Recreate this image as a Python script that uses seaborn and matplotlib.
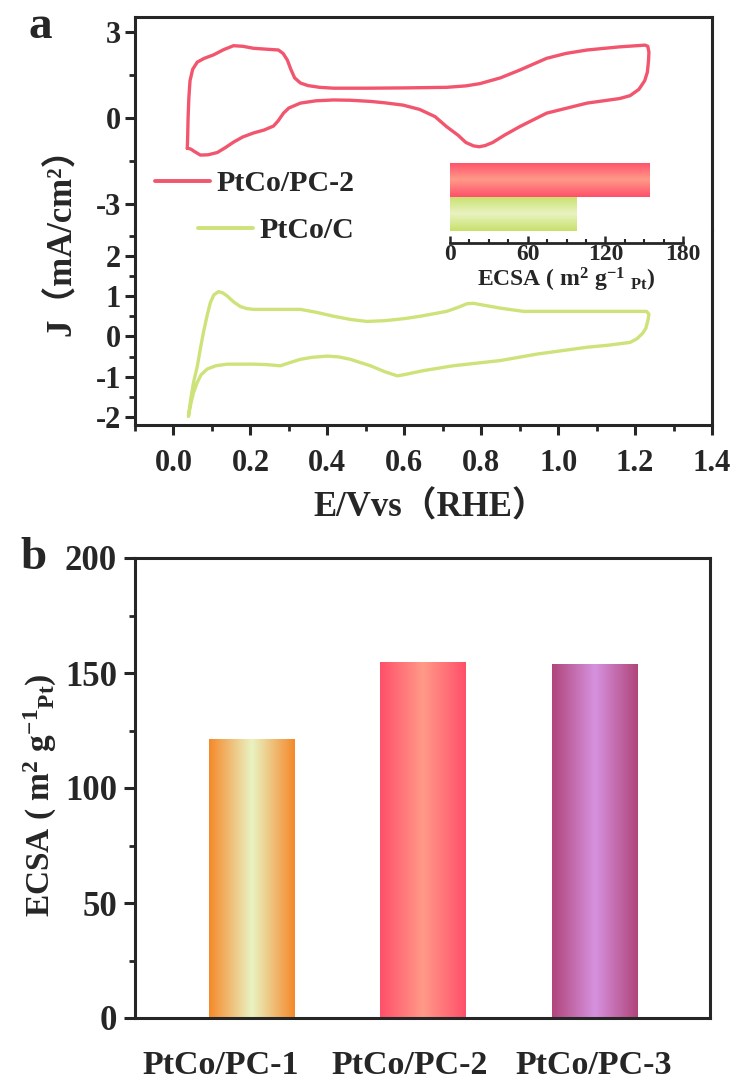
import numpy as np
import pandas as pd
import matplotlib
matplotlib.use("Agg")
import matplotlib.pyplot as plt
import seaborn as sns
from matplotlib.colors import LinearSegmentedColormap
from matplotlib.lines import Line2D
from matplotlib.ticker import MultipleLocator

# CV curve of PtCo/PC-2 (E vs RHE, J in mA/cm2)
E_pc2 = [0.036, 0.037, 0.038, 0.040, 0.043, 0.050, 0.062, 0.080, 0.104, 0.130, 0.156, 0.180, 0.208,
         0.240, 0.273, 0.285, 0.296, 0.305, 0.315, 0.330, 0.350, 0.380, 0.416, 0.503, 0.600, 0.710,
         0.760, 0.797, 0.850, 0.900, 0.970, 1.020, 1.075, 1.160, 1.226, 1.233, 1.236, 1.235, 1.232,
         1.225, 1.210, 1.187, 1.160, 1.075, 0.970, 0.900, 0.860, 0.830, 0.810, 0.795, 0.780, 0.760,
         0.740, 0.710, 0.680, 0.640, 0.597, 0.550, 0.512, 0.460, 0.416, 0.370, 0.330, 0.300, 0.286,
         0.272, 0.260, 0.235, 0.208, 0.180, 0.156, 0.135, 0.114, 0.090, 0.070, 0.055, 0.045, 0.036]
J_pc2 = [-1.05, -0.60, 0.00, 0.70, 1.30, 1.70, 1.95, 2.08, 2.20, 2.38, 2.52, 2.50, 2.43,
         2.40, 2.37, 2.25, 2.02, 1.70, 1.40, 1.22, 1.13, 1.07, 1.04, 1.04, 1.05, 1.07,
         1.12, 1.20, 1.40, 1.67, 2.08, 2.25, 2.37, 2.48, 2.54, 2.50, 2.30, 2.00, 1.60,
         1.30, 1.00, 0.78, 0.68, 0.52, 0.17, -0.30, -0.60, -0.85, -0.96, -1.00, -0.97, -0.85,
         -0.60, -0.30, 0.05, 0.30, 0.45, 0.53, 0.58, 0.62, 0.63, 0.60, 0.52, 0.35, 0.17,
         -0.10, -0.28, -0.42, -0.52, -0.66, -0.84, -1.03, -1.20, -1.28, -1.29, -1.17, -1.08, -1.05]

# CV curve of PtCo/C
E_c = [0.039, 0.045, 0.052, 0.062, 0.070, 0.078, 0.087, 0.096, 0.105, 0.117, 0.128, 0.140, 0.157,
       0.174, 0.190, 0.208, 0.330, 0.370, 0.416, 0.460, 0.503, 0.550, 0.600, 0.642, 0.710, 0.740,
       0.763, 0.780, 0.797, 0.850, 0.910, 1.230, 1.236, 1.234, 1.228, 1.220, 1.205, 1.187, 1.130,
       1.075, 0.945, 0.850, 0.727, 0.650, 0.600, 0.582, 0.550, 0.512, 0.460, 0.430, 0.400, 0.360,
       0.330, 0.300, 0.278, 0.240, 0.208, 0.140, 0.110, 0.088, 0.072, 0.062, 0.052, 0.044, 0.039]
J_c = [-1.98, -1.55, -1.15, -0.74, -0.30, 0.10, 0.50, 0.84, 1.03, 1.11, 1.08, 1.00, 0.85,
       0.74, 0.69, 0.67, 0.67, 0.60, 0.50, 0.42, 0.37, 0.39, 0.44, 0.50, 0.62, 0.72,
       0.81, 0.82, 0.79, 0.70, 0.62, 0.62, 0.55, 0.42, 0.20, 0.08, -0.06, -0.15, -0.22,
       -0.27, -0.44, -0.60, -0.73, -0.85, -0.95, -0.98, -0.88, -0.73, -0.57, -0.51, -0.49, -0.52,
       -0.57, -0.66, -0.73, -0.70, -0.69, -0.69, -0.73, -0.81, -0.95, -1.14, -1.40, -1.72, -1.98]

# inset ECSA bars
inset_names = ["PtCo/PC-2", "PtCo/C"]
inset_ecsa = [154, 98]

# panel b ECSA bars
samples = ["PtCo/PC-1", "PtCo/PC-2", "PtCo/PC-3"]
ecsa = [121.5, 155, 154]

red = "#F2566E"
green = "#CDE37A"
bar_grads = [["#F5892A", "#E9F3C2", "#F5892A"],
             ["#FF4F6A", "#FF9A88", "#FF4F6A"],
             ["#B0457A", "#D692DF", "#B0457A"]]
inset_grads = [["#FF4F6A", "#FF9A88", "#FF4F6A"],
               ["#C8E06A", "#E9F3C2", "#C8E06A"]]

sns.set_theme(style="ticks")
plt.rcParams['font.family'] = ['Liberation Serif', 'Noto Sans CJK SC']
plt.rcParams['font.weight'] = 'bold'
plt.rcParams['mathtext.default'] = 'regular'
plt.rcParams['axes.linewidth'] = 2.2
plt.rcParams['axes.unicode_minus'] = False


def gradient_fill(ax, patch, colors, vertical_bands=True):
    # paint a bar with a mirrored gradient, clipped to the bar shape
    x0, y0 = patch.get_x(), patch.get_y()
    w, h = patch.get_width(), patch.get_height()
    cmap = LinearSegmentedColormap.from_list("g", colors)
    grad = np.linspace(0, 1, 256)
    img = grad[None, :] if vertical_bands else grad[:, None]
    im = ax.imshow(img, cmap=cmap, aspect="auto", extent=(x0, x0 + w, y0, y0 + h),
                   origin="lower", zorder=2, interpolation="bicubic")
    im.set_clip_path(patch)
    patch.set_facecolor("none")
    patch.set_edgecolor("none")


W, H = 737, 1083
fig = plt.figure(figsize=(W / 100, H / 100), dpi=100)


def box(l, t, r, b):
    return [l / W, 1 - b / H, (r - l) / W, (b - t) / H]


# ---- panel a: split y axis ----
ax_top = fig.add_axes(box(135, 17, 712, 230))
ax_bot = fig.add_axes(box(135, 230, 712, 425), sharex=ax_top)

sns.lineplot(x=E_pc2, y=J_pc2, sort=False, estimator=None, color=red, lw=2.4, ax=ax_top,
             solid_joinstyle='round')
sns.lineplot(x=E_c, y=J_c, sort=False, estimator=None, color=green, lw=2.4, ax=ax_bot,
             solid_joinstyle='round')

ax_top.set_xlim(-0.1, 1.4)
ax_top.set_ylim(-3.9, 3.52)
ax_bot.set_ylim(-2.2, 2.64)
ax_top.set_yticks([-3, 0, 3])
ax_top.yaxis.set_minor_locator(MultipleLocator(1.5))
ax_bot.set_yticks([-2, -1, 0, 1, 2])
ax_bot.yaxis.set_minor_locator(MultipleLocator(0.5))
ax_bot.set_xticks(np.arange(0, 1.41, 0.2))
ax_bot.set_xticklabels([f"{v:.1f}" for v in np.arange(0, 1.41, 0.2)])
ax_bot.xaxis.set_minor_locator(MultipleLocator(0.1))

ax_top.spines['bottom'].set_visible(False)
ax_bot.spines['top'].set_visible(False)
ax_top.tick_params(axis='x', which='both', bottom=False, labelbottom=False)
for a in (ax_top, ax_bot):
    a.set_xlabel("")
    a.set_ylabel("")
    a.tick_params(axis='y', which='major', direction='out', length=7, width=2.2, labelsize=22, pad=3)
    a.tick_params(axis='y', which='minor', direction='out', length=4, width=2.0)
ax_bot.tick_params(axis='x', which='major', direction='out', length=7, width=2.2, labelsize=22, pad=10)
ax_bot.tick_params(axis='x', which='minor', direction='out', length=4, width=2.0)

fig.text(62 / W, 1 - 233 / H, "J（mA/cm²）", rotation=90, ha='center', va='center',
         fontsize=25, fontweight='bold')
fig.text(430 / W, 1 - 508 / H, "E/Vvs（RHE）", ha='center', va='center',
         fontsize=25, fontweight='bold')

fig.legend(handles=[Line2D([], [], color=red, lw=2.8)], labels=["PtCo/PC-2"],
           loc='center left', bbox_to_anchor=(155 / W, 1 - 184 / H), frameon=False,
           fontsize=21.5, handlelength=1.85, handletextpad=0.2, borderaxespad=0, borderpad=0)
fig.legend(handles=[Line2D([], [], color=green, lw=2.8)], labels=["PtCo/C"],
           loc='center left', bbox_to_anchor=(198 / W, 1 - 231 / H), frameon=False,
           fontsize=21.5, handlelength=1.85, handletextpad=0.2, borderaxespad=0, borderpad=0)

# inset bar chart
ax_in = fig.add_axes(box(450, 160, 683, 243))
ax_in.patch.set_alpha(0)
sns.barplot(x=inset_ecsa, y=inset_names, orient='h', width=1.0, ax=ax_in, color=red)
for p, cols in zip(ax_in.patches, inset_grads):
    gradient_fill(ax_in, p, cols, vertical_bands=False)
ax_in.set_xlim(0, 180)
ax_in.set_ylim(1.85, -0.59)
ax_in.set_xticks([0, 60, 120, 180])
ax_in.xaxis.set_minor_locator(MultipleLocator(15))
ax_in.set_yticks([])
for s in ('left', 'top', 'right'):
    ax_in.spines[s].set_visible(False)
ax_in.spines['bottom'].set_linewidth(2.0)
ax_in.tick_params(axis='x', which='major', direction='in', length=5, width=1.8, labelsize=17, pad=1)
ax_in.tick_params(axis='x', which='minor', direction='in', length=3, width=1.5)
ax_in.set_xlabel(r"ECSA ( m$^{2}$ g$^{-1}$ $_{Pt}$)", fontsize=17, fontweight='bold', labelpad=0)

# ---- panel b ----
ax_b = fig.add_axes(box(135, 558, 710, 1018))
sns.barplot(x=samples, y=ecsa, width=0.5, ax=ax_b, color=red)
for p, cols in zip(ax_b.patches, bar_grads):
    gradient_fill(ax_b, p, cols, vertical_bands=True)
ax_b.set_xlim(-0.68, 2.67)
ax_b.set_ylim(0, 200)
ax_b.yaxis.set_major_locator(MultipleLocator(50))
ax_b.yaxis.set_minor_locator(MultipleLocator(25))
# category labels sit slightly off the bar centres in the original
ax_b.set_xticks([-0.18, 0.92, 1.99])
ax_b.set_xticklabels(samples)
ax_b.tick_params(axis='y', which='major', direction='out', length=8, width=2.2, labelsize=25, pad=5)
ax_b.tick_params(axis='y', which='minor', direction='out', length=4, width=2.0)
ax_b.tick_params(axis='x', length=0, labelsize=24.5, pad=23)
ax_b.set_xlabel("")
ax_b.set_ylabel("")
fig.text(40 / W, 1 - 795 / H, r"ECSA ( m$^{2}$ g$^{-1}$$_{Pt}$)", rotation=90, ha='center',
         va='center', fontsize=24, fontweight='bold')

fig.text(28 / W, 1 - 38 / H, "a", fontsize=34, fontweight='bold', ha='left', va='baseline')
fig.text(20 / W, 1 - 569 / H, "b", fontsize=34, fontweight='bold', ha='left', va='baseline')

fig.savefig("out.png", dpi=100)
